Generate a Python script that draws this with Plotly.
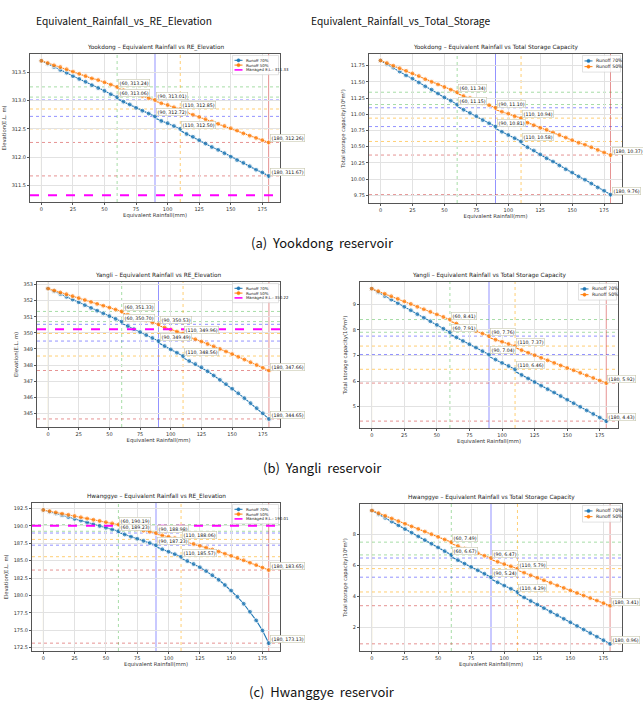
import plotly.graph_objects as go

W, H = 643, 704

# ---------------- data ----------------
rain = [0, 5, 10, 15, 20, 25, 30, 35, 40, 45, 50, 55, 60, 65, 70, 75, 80, 85, 90,
        95, 100, 105, 110, 115, 120, 125, 130, 135, 140, 145, 150, 155, 160, 165,
        170, 175, 180]
breaks = [60, 90, 110, 180]

# Yookdong
yk_elev_70 = [313.70, 313.65, 313.59, 313.54, 313.49, 313.43, 313.38, 313.33, 313.27, 313.22, 313.17, 313.11, 313.06,
              312.98, 312.93, 312.87, 312.82, 312.77, 312.72, 312.64, 312.60, 312.55, 312.50,
              312.41, 312.36, 312.30, 312.24, 312.18, 312.13, 312.07, 312.01, 311.95, 311.90, 311.84, 311.78, 311.73, 311.67]
yk_elev_70_after = [313.03, 312.69, 312.47, 311.63]
yk_elev_50 = [313.70, 313.66, 313.62, 313.59, 313.55, 313.51, 313.47, 313.43, 313.39, 313.36, 313.32, 313.28, 313.24,
              313.18, 313.15, 313.11, 313.08, 313.04, 313.01, 312.95, 312.92, 312.88, 312.85,
              312.79, 312.75, 312.71, 312.67, 312.63, 312.59, 312.55, 312.51, 312.47, 312.42, 312.38, 312.34, 312.30, 312.26]
yk_elev_50_after = [313.22, 312.99, 312.83, 312.23]
yk_stor_70 = [11.83, 11.77, 11.72, 11.66, 11.60, 11.55, 11.49, 11.43, 11.38, 11.32, 11.26, 11.21, 11.15,
              11.07, 11.02, 10.97, 10.91, 10.86, 10.81, 10.73, 10.68, 10.63, 10.58,
              10.49, 10.44, 10.38, 10.32, 10.27, 10.21, 10.15, 10.10, 10.04, 9.99, 9.93, 9.87, 9.82, 9.76]
yk_stor_70_after = [11.12, 10.78, 10.55, 9.72]
yk_stor_50 = [11.83, 11.79, 11.75, 11.71, 11.67, 11.63, 11.59, 11.54, 11.50, 11.46, 11.42, 11.38, 11.34,
              11.28, 11.25, 11.21, 11.17, 11.14, 11.10, 11.04, 11.01, 10.97, 10.94,
              10.87, 10.83, 10.79, 10.76, 10.72, 10.68, 10.64, 10.60, 10.56, 10.53, 10.49, 10.45, 10.41, 10.37]
yk_stor_50_after = [11.32, 11.07, 10.91, 10.33]
yk_managed = 311.33

# Yangli
yl_elev_70 = [352.75, 352.58, 352.41, 352.24, 352.07, 351.90, 351.72, 351.55, 351.38, 351.21, 351.04, 350.87, 350.70,
              350.42, 350.23, 350.05, 349.86, 349.68, 349.49, 349.18, 348.97, 348.77, 348.56,
              348.25, 348.06, 347.86, 347.61, 347.35, 347.08, 346.81, 346.53, 346.24, 345.94, 345.63, 345.32, 345.00, 344.65]
yl_elev_70_after = [350.60, 349.38, 348.45, 344.55]
yl_elev_50 = [352.75, 352.63, 352.51, 352.40, 352.28, 352.16, 352.04, 351.92, 351.80, 351.69, 351.57, 351.45, 351.33,
              351.13, 351.01, 350.89, 350.77, 350.65, 350.53, 350.33, 350.21, 350.08, 349.96,
              349.75, 349.60, 349.46, 349.31, 349.16, 349.00, 348.84, 348.68, 348.51, 348.34, 348.17, 348.00, 347.83, 347.66]
yl_elev_50_after = [351.25, 350.45, 349.88, 347.56]
yl_stor_70 = [9.62, 9.48, 9.33, 9.19, 9.05, 8.91, 8.77, 8.62, 8.48, 8.34, 8.20, 8.05, 7.91,
              7.71, 7.57, 7.44, 7.31, 7.17, 7.04, 6.84, 6.71, 6.59, 6.46,
              6.24, 6.10, 5.96, 5.82, 5.68, 5.55, 5.41, 5.27, 5.13, 4.99, 4.85, 4.71, 4.57, 4.43]
yl_stor_70_after = [7.84, 6.96, 6.38, 4.36]
yl_stor_50 = [9.62, 9.52, 9.42, 9.32, 9.22, 9.12, 9.02, 8.91, 8.81, 8.71, 8.61, 8.51, 8.41,
              8.25, 8.15, 8.05, 7.96, 7.86, 7.76, 7.62, 7.54, 7.45, 7.37,
              7.21, 7.11, 7.01, 6.91, 6.81, 6.71, 6.61, 6.51, 6.42, 6.32, 6.22, 6.12, 6.02, 5.92]
yl_stor_50_after = [8.35, 7.70, 7.31, 5.86]
yl_managed = 350.22

# Hwanggye
hg_elev_70 = [192.30, 192.04, 191.79, 191.53, 191.28, 191.02, 190.77, 190.51, 190.25, 190.00, 189.74, 189.49, 189.23,
              188.77, 188.46, 188.16, 187.85, 187.54, 187.23, 186.64, 186.29, 185.93, 185.57,
              184.95, 184.52, 184.05, 183.50, 182.90, 182.25, 181.50, 180.70, 179.80, 178.80, 177.65, 176.40, 174.95, 173.13]
hg_elev_70_after = [189.08, 187.00, 185.35, 172.85]
hg_elev_50 = [192.30, 192.12, 191.95, 191.77, 191.60, 191.42, 191.24, 191.07, 190.89, 190.72, 190.54, 190.37, 190.19,
              189.86, 189.69, 189.51, 189.33, 189.16, 188.98, 188.64, 188.44, 188.25, 188.06,
              187.66, 187.41, 187.15, 186.88, 186.60, 186.31, 186.01, 185.70, 185.38, 185.05, 184.71, 184.36, 184.00, 183.65]
hg_elev_50_after = [190.04, 188.83, 187.90, 183.50]
hg_stor_70 = [9.52, 9.28, 9.05, 8.81, 8.57, 8.33, 8.10, 7.86, 7.62, 7.39, 7.15, 6.91, 6.67,
              6.33, 6.11, 5.90, 5.68, 5.46, 5.24, 4.91, 4.70, 4.50, 4.29,
              3.94, 3.71, 3.48, 3.25, 3.02, 2.80, 2.57, 2.34, 2.11, 1.88, 1.65, 1.42, 1.19, 0.96]
hg_stor_70_after = [6.55, 5.12, 4.17, 0.85]
hg_stor_50 = [9.52, 9.35, 9.18, 9.01, 8.84, 8.67, 8.50, 8.34, 8.17, 8.00, 7.83, 7.66, 7.49,
              7.24, 7.08, 6.93, 6.78, 6.62, 6.47, 6.23, 6.08, 5.94, 5.79,
              5.53, 5.36, 5.20, 5.04, 4.88, 4.71, 4.55, 4.39, 4.22, 4.06, 3.90, 3.74, 3.57, 3.41]
hg_stor_50_after = [7.39, 6.37, 5.69, 3.30]
hg_managed = 190.01

col_headers = ["Equivalent_Rainfall_vs_RE_Elevation", "Equivalent_Rainfall_vs_Total_Storage"]
captions = ["(a)  Yookdong  reservoir", "(b)  Yangli  reservoir", "(c)  Hwanggye  reservoir"]
series_names = ["Runoff 70%", "Runoff 50%"]

# ---------------- layout config ----------------
ELEV_T = "Elevation(E.L. m)"
STOR_T = "Total storage capacity(10⁶m³)"
panels = [
    dict(title="Yookdong – Equivalent Rainfall vs RE_Elevation", box=(30, 54, 280, 202),
         yr=(311.21, 313.82), dtick=0.5, fmt=".1f", yt=ELEV_T,
         s70=yk_elev_70, a70=yk_elev_70_after, s50=yk_elev_50, a50=yk_elev_50_after, managed=yk_managed),
    dict(title="Yookdong – Equivalent Rainfall vs Total Storage Capacity", box=(369, 54, 622, 203),
         yr=(9.63, 11.93), dtick=0.25, fmt=".2f", yt=STOR_T,
         s70=yk_stor_70, a70=yk_stor_70_after, s50=yk_stor_50, a50=yk_stor_50_after, managed=None),
    dict(title="Yangli – Equivalent Rainfall vs RE_Elevation", box=(37, 282, 280, 427),
         yr=(344.15, 353.16), dtick=1, fmt="d", yt=ELEV_T,
         s70=yl_elev_70, a70=yl_elev_70_after, s50=yl_elev_50, a50=yl_elev_50_after, managed=yl_managed),
    dict(title="Yangli – Equivalent Rainfall vs Total Storage Capacity", box=(360, 282, 618, 428),
         yr=(4.16, 9.88), dtick=1, fmt="d", yt=STOR_T,
         s70=yl_stor_70, a70=yl_stor_70_after, s50=yl_stor_50, a50=yl_stor_50_after, managed=None),
    dict(title="Hwanggye – Equivalent Rainfall vs RE_Elevation", box=(32, 503, 280, 651),
         yr=(172.0, 193.3), dtick=2.5, fmt=".1f", yt=ELEV_T,
         s70=hg_elev_70, a70=hg_elev_70_after, s50=hg_elev_50, a50=hg_elev_50_after, managed=hg_managed),
    dict(title="Hwanggye – Equivalent Rainfall vs Total Storage Capacity", box=(360, 504, 622, 651),
         yr=(0.5, 9.94), dtick=2, fmt="d", yt=STOR_T,
         s70=hg_stor_70, a70=hg_stor_70_after, s50=hg_stor_50, a50=hg_stor_50_after, managed=None),
]

C70 = "#1f77b4"
C50 = "#ff7f0e"
CMAN = "#ff00ff"
break_colors = ["rgba(60,180,60,0.45)", "rgba(40,40,255,0.5)", "rgba(255,165,0,0.55)", "rgba(205,40,40,0.5)"]
FONT = "DejaVu Sans"
XR = (-9, 189)

fig = go.Figure()
shapes, annos = [], []
layout_axes = {}


def px(x, y):
    return x / W, 1 - y / H


def with_steps(vals, after):
    xs, ys, sz = [], [], []
    for x, v in zip(rain, vals):
        xs.append(x); ys.append(v); sz.append(5)
        if x in breaks:
            xs.append(x); ys.append(after[breaks.index(x)]); sz.append(0)
    return xs, ys, sz


def draw_legend(entries, right, top):
    """entries: list of (label, color, kind) ; kind 'marker' or 'dash'"""
    n = len(entries)
    if n == 3:
        bw, step, fs, pad = 46, 4.8, 3.9, 2.4
    else:
        bw, step, fs, pad = 38, 5.7, 4.6, 2.6
    bh = pad * 2 + step * n
    l = right - bw
    bx0, by0 = px(l, top)
    bx1, by1 = px(right, top + bh)
    shapes.append(dict(type="rect", xref="paper", yref="paper", x0=bx0, x1=bx1, y0=by1, y1=by0,
                       fillcolor="rgba(255,255,255,0.85)", line=dict(color="#cfcfcf", width=0.6)))
    for j, (lab, col, kind) in enumerate(entries):
        cy = top + pad + step * (j + 0.5)
        lx0, lx1 = l + 2, l + 10
        a0, yy = px(lx0, cy)
        a1, _ = px(lx1, cy)
        if kind == "marker":
            shapes.append(dict(type="line", xref="paper", yref="paper", x0=a0, x1=a1, y0=yy, y1=yy,
                               line=dict(color=col, width=1)))
            cx = (lx0 + lx1) / 2
            c0 = px(cx - 1.6, cy - 1.6)
            c1 = px(cx + 1.6, cy + 1.6)
            shapes.append(dict(type="circle", xref="paper", yref="paper", x0=c0[0], x1=c1[0], y0=c1[1], y1=c0[1],
                               fillcolor=col, line=dict(color=col, width=0.5)))
        else:
            shapes.append(dict(type="line", xref="paper", yref="paper", x0=a0, x1=a1, y0=yy, y1=yy,
                               line=dict(color=col, width=1.6, dash="dash")))
        tx, ty = px(lx1 + 1.5, cy)
        annos.append(dict(x=tx, y=ty, xref="paper", yref="paper", text=lab, showarrow=False,
                          xanchor="left", yanchor="middle", font=dict(size=fs, family=FONT, color="#222")))


for i, p in enumerate(panels):
    n = "" if i == 0 else str(i + 1)
    xa, ya = "x" + n, "y" + n
    x0, y0, x1, y1 = p["box"]
    axis_common = dict(
        showline=True, mirror=True, linecolor="#555", linewidth=1,
        ticks="outside", ticklen=2, tickcolor="#555", tickfont=dict(size=5, family=FONT, color="#333"),
        showgrid=True, gridcolor="#e2e2e2", gridwidth=1.2, zeroline=False,
    )
    layout_axes["xaxis" + n] = dict(
        domain=[x0 / W, x1 / W], anchor=ya, range=list(XR), tick0=0, dtick=25,
        title=dict(text="Equivalent Rainfall(mm)", font=dict(size=5.3, family=FONT, color="#333"), standoff=2),
        **axis_common)
    layout_axes["yaxis" + n] = dict(
        domain=[1 - y1 / H, 1 - y0 / H], anchor=xa, range=list(p["yr"]), dtick=p["dtick"],
        tick0=0, tickformat=p["fmt"],
        title=dict(text=p["yt"], font=dict(size=5.3, family=FONT, color="#333"), standoff=4),
        **axis_common)
    # reference lines at breakpoints
    shapes.append(dict(type="line", xref=xa, yref=ya + " domain", x0=0, x1=0, y0=0, y1=1,
                       line=dict(color="rgba(220,200,120,0.35)", width=1), layer="below"))
    for b, bc in zip(breaks, break_colors):
        k = rain.index(b)
        shapes.append(dict(type="line", xref=xa, yref=ya + " domain", x0=b, x1=b, y0=0, y1=1,
                           line=dict(color=bc, width=1, dash="dot" if b in (60, 110) else "solid"), layer="below"))
        for s in (p["s50"], p["s70"]):
            shapes.append(dict(type="line", xref=xa + " domain", yref=ya, x0=0, x1=1, y0=s[k], y1=s[k],
                               line=dict(color=bc, width=1, dash="dot"), layer="below"))
    # series
    for name, s, a, c in ((series_names[0], p["s70"], p["a70"], C70), (series_names[1], p["s50"], p["a50"], C50)):
        xs, ys, sz = with_steps(s, a)
        fig.add_trace(go.Scatter(x=xs, y=ys, mode="lines+markers", name=name, xaxis=xa, yaxis=ya,
                                 line=dict(color=c, width=1.1), marker=dict(color=c, size=sz),
                                 showlegend=False))
        for b in breaks:
            v = s[rain.index(b)]
            annos.append(dict(x=b, y=v, xref=xa, yref=ya, text=f"({b}, {v:.2f})", showarrow=False,
                              xanchor="left", yanchor="middle", xshift=1, yshift=4,
                              font=dict(size=4.7, family=FONT, color="#111"),
                              bgcolor="white", bordercolor="#c8c8b0", borderwidth=0.6, borderpad=1))
    entries = [(series_names[0], C70, "marker"), (series_names[1], C50, "marker")]
    if p["managed"] is not None:
        shapes.append(dict(type="line", xref=xa + " domain", yref=ya, x0=0, x1=1,
                           y0=p["managed"], y1=p["managed"],
                           line=dict(color=CMAN, width=2, dash="dash")))
        entries.append((f"Managed E.L.: {p['managed']:.2f}", CMAN, "dash"))
    draw_legend(entries, x1 - 1.5, y0 + 1.5)
    # subplot title
    annos.append(dict(x=(x0 + x1) / 2 / W, y=1 - (y0 - 1) / H, xref="paper", yref="paper", text=p["title"],
                      showarrow=False, xanchor="center", yanchor="bottom",
                      font=dict(size=5.8, family=FONT, color="#222")))

# column headers and captions
for t, cx in zip(col_headers, (124, 400)):
    annos.append(dict(x=cx / W, y=1 - 20 / H, xref="paper", yref="paper", text=t, showarrow=False,
                      xanchor="center", yanchor="middle", font=dict(size=10.2, family="Noto Sans CJK KR", color="#111")))
for t, cy in zip(captions, (242, 467, 691)):
    annos.append(dict(x=322 / W, y=1 - cy / H, xref="paper", yref="paper", text=t, showarrow=False,
                      xanchor="center", yanchor="middle", font=dict(size=13, family="Noto Sans CJK KR", color="#111")))

fig.update_layout(width=W, height=H, margin=dict(l=0, r=0, t=0, b=0), paper_bgcolor="white",
                  plot_bgcolor="white", shapes=shapes, annotations=annos, showlegend=False, **layout_axes)
fig.write_html("out.html")
